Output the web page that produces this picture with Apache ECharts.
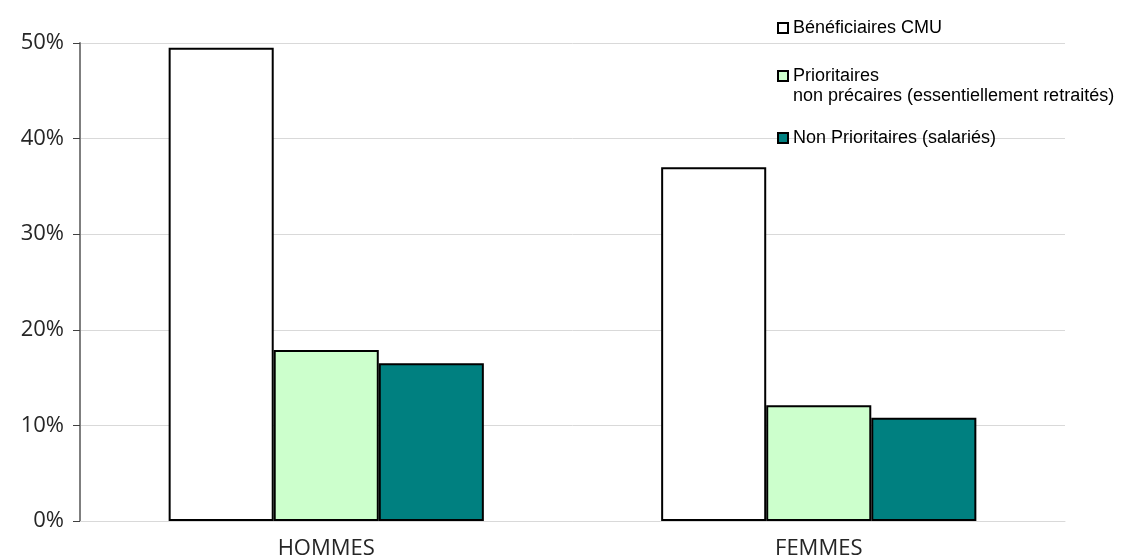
<!DOCTYPE html>
<html>
<head>
<meta charset="utf-8">
<script src="https://cdn.jsdelivr.net/npm/echarts@6/dist/echarts.min.js"></script>
<style>
  html, body { margin: 0; padding: 0; background: #fff; }
  #chart { width: 1143px; height: 558px; }
</style>
</head>
<body>
<div id="chart"></div>
<script>
// Share of each population group, by sex (percent)
const categories = ['HOMMES', 'FEMMES'];
const seriesNames = [
  'Bénéficiaires CMU',
  'Prioritaires',
  'Non Prioritaires (salariés)'
];
const beneficiairesCMU = [49.5, 37.0];
const prioritairesNonPrecaires = [17.9, 12.1];
const nonPrioritaires = [16.5, 10.8];
const yTicks = [0, 10, 20, 30, 40, 50];

const colors = ['#FFFFFF', '#CCFFCC', '#008080'];
const values = [beneficiairesCMU, prioritairesNonPrecaires, nonPrioritaires];

const chart = echarts.init(document.getElementById('chart'), null, { renderer: 'canvas' });

const legendFont = { fontFamily: '"Liberation Sans", Arial, sans-serif', fontSize: 18, color: '#000' };
const legendTops = [19, 67, 129];

const option = {
  animation: false,
  backgroundColor: '#ffffff',
  grid: { left: 80, right: 78, top: 43, bottom: 37, containLabel: false, outerBoundsMode: 'none' },
  legend: seriesNames.map((name, i) => ({
    data: [name],
    left: 777,
    top: legendTops[i],
    orient: 'vertical',
    icon: 'rect',
    itemWidth: 10,
    itemHeight: 10,
    itemGap: 0,
    padding: 0,
    textStyle: legendFont,
    selectedMode: false
  })),
  graphic: [{
    type: 'text',
    left: 793,
    top: 87,
    style: { text: 'non précaires (essentiellement retraités)', fill: '#000',
             font: '18px "Liberation Sans", Arial, sans-serif' }
  }],
  xAxis: {
    type: 'category',
    data: categories,
    axisLine: { show: true, lineStyle: { color: '#D9D9D9', width: 1 } },
    axisTick: { show: false },
    axisLabel: {
      margin: 17,
      fontFamily: '"Open Sans", sans-serif',
      fontSize: 22,
      color: '#262626'
    }
  },
  yAxis: {
    type: 'value',
    min: yTicks[0],
    max: yTicks[yTicks.length - 1],
    interval: 10,
    axisLine: { show: true, lineStyle: { color: '#7F7F7F', width: 2 } },
    axisTick: { show: true, inside: false, length: 7, lineStyle: { color: '#404040', width: 1 } },
    splitLine: { show: true, lineStyle: { color: '#D9D9D9', width: 1 } },
    axisLabel: {
      margin: 16,
      formatter: '{value}%',
      fontFamily: '"Open Sans", sans-serif',
      fontSize: 22,
      color: '#262626'
    }
  },
  series: seriesNames.map((name, i) => ({
    name: name,
    type: 'bar',
    data: values[i],
    barGap: '0%',
    barCategoryGap: '36%',
    itemStyle: { color: colors[i], borderColor: '#000000', borderWidth: 2 }
  }))
};

chart.setOption(option);
</script>
</body>
</html>
